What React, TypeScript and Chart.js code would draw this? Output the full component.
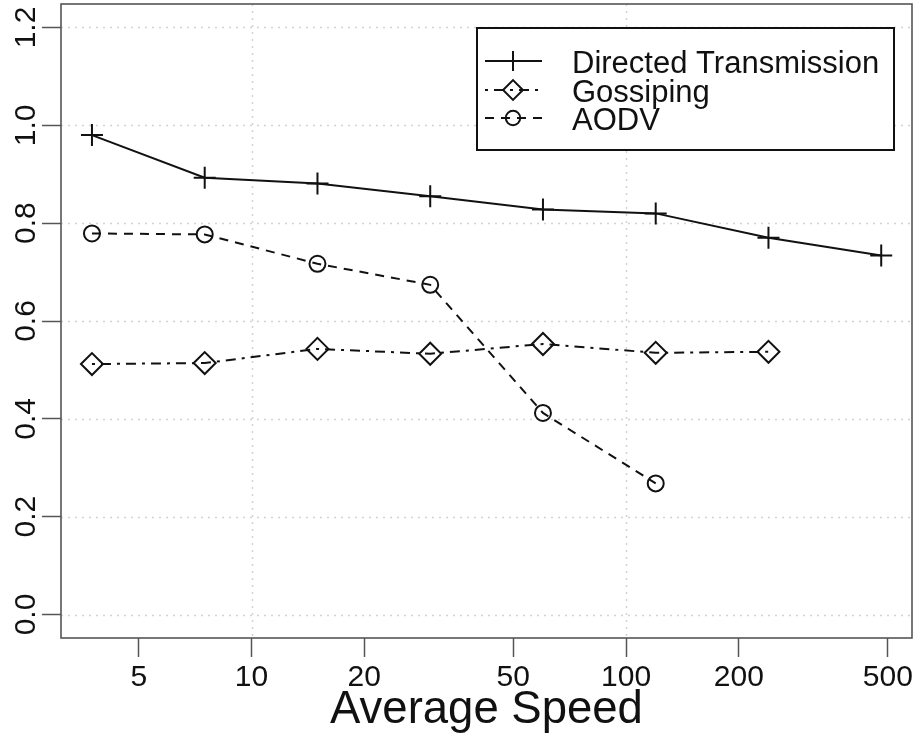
import React, { useEffect, useRef } from "react";
import { Chart, registerables } from "chart.js";
import { drawPoint } from "chart.js/helpers";

Chart.register(...registerables);

const speeds = [3.75, 7.5, 15, 30, 60, 120, 240, 480];
const directed = [0.98, 0.893, 0.881, 0.855, 0.828, 0.82, 0.77, 0.734];
const gossiping = [0.512, 0.514, 0.543, 0.533, 0.553, 0.535, 0.537];
const aodv = [0.779, 0.777, 0.717, 0.674, 0.412, 0.268];

const xTicks = [5, 10, 20, 50, 100, 200, 500];
const xGrid = [10, 100];
const yTicks = [0, 0.2, 0.4, 0.6, 0.8, 1.0, 1.2];
const yTickLabels = ["0.0", "0.2", "0.4", "0.6", "0.8", "1.0", "1.2"];
const seriesNames = ["Directed Transmission", "Gossiping", "AODV"];
const xTitle = "Average Speed";

const FONT = "'Liberation Sans', Arial, Helvetica, sans-serif";
const INK = "#111111";

const toPoints = (vals: number[]) => vals.map((v, i) => ({ x: speeds[i], y: v }));

const customPlugin = {
  id: "customDecor",
  beforeDatasetsDraw(chart: any) {
    const { ctx, chartArea, scales } = chart;
    const { left, right, top, bottom } = chartArea;
    ctx.save();
    ctx.strokeStyle = "#d2d2d2";
    ctx.lineWidth = 1.5;
    ctx.setLineDash([2, 5]);
    yTicks.forEach((v) => {
      const py = Math.round(scales.y.getPixelForValue(v)) + 0.5;
      ctx.beginPath();
      ctx.moveTo(left, py);
      ctx.lineTo(right, py);
      ctx.stroke();
    });
    xGrid.forEach((v) => {
      const px = Math.round(scales.x.getPixelForValue(v)) + 0.5;
      ctx.beginPath();
      ctx.moveTo(px, top);
      ctx.lineTo(px, bottom);
      ctx.stroke();
    });
    ctx.restore();
  },
  afterDatasetsDraw(chart: any) {
    const { ctx, chartArea, scales } = chart;
    const { left, right, top, bottom } = chartArea;
    ctx.save();
    // plot box
    ctx.setLineDash([]);
    ctx.strokeStyle = "#555555";
    ctx.lineWidth = 1.6;
    ctx.strokeRect(left, top, right - left, bottom - top);

    // y tick labels (rotated)
    ctx.fillStyle = INK;
    ctx.font = `30px ${FONT}`;
    ctx.textAlign = "center";
    ctx.textBaseline = "alphabetic";
    yTicks.forEach((v, i) => {
      const py = scales.y.getPixelForValue(v);
      ctx.save();
      ctx.translate(35, py);
      ctx.rotate(-Math.PI / 2);
      ctx.fillText(yTickLabels[i], 0, 0);
      ctx.restore();
    });

    // x title
    ctx.font = `45.5px ${FONT}`;
    ctx.textAlign = "center";
    ctx.fillText(xTitle, (left + right) / 2, 723);

    // legend
    const bx = 477, by = 28, bw = 417, bh = 122;
    ctx.fillStyle = "#ffffff";
    ctx.fillRect(bx, by, bw, bh);
    ctx.strokeStyle = INK;
    ctx.lineWidth = 2;
    ctx.strokeRect(bx, by, bw, bh);
    const rowsY = [61, 90, 118];
    const baseY = [73, 102, 130];
    chart.data.datasets.forEach((ds: any, i: number) => {
      const ry = rowsY[i];
      ctx.save();
      ctx.strokeStyle = ds.borderColor;
      ctx.lineWidth = ds.borderWidth;
      ctx.setLineDash(ds.borderDash || []);
      ctx.beginPath();
      ctx.moveTo(485, ry);
      ctx.lineTo(542, ry);
      ctx.stroke();
      ctx.setLineDash([]);
      ctx.strokeStyle = ds.pointBorderColor;
      ctx.fillStyle = "rgba(0,0,0,0)";
      ctx.lineWidth = ds.pointBorderWidth;
      drawPoint(ctx, { pointStyle: ds.pointStyle, radius: ds.pointRadius * 0.9, borderWidth: ds.pointBorderWidth, rotation: 0 }, 513, ry);
      ctx.restore();
      ctx.fillStyle = INK;
      ctx.font = `31px ${FONT}`;
      ctx.textAlign = "left";
      ctx.textBaseline = "alphabetic";
      ctx.fillText(seriesNames[i], 572, baseY[i]);
    });
    ctx.restore();
  },
};

export default function App() {
  const ref = useRef<HTMLCanvasElement | null>(null);
  useEffect(() => {
    document.body.style.margin = "0";
    if (!ref.current) return;
    const chart = new Chart(ref.current, {
      type: "line",
      data: {
        datasets: [
          {
            label: seriesNames[0],
            data: toPoints(directed),
            borderColor: INK,
            borderWidth: 2,
            borderDash: [],
            pointStyle: "cross",
            pointRadius: 11,
            pointBorderWidth: 2,
            pointBorderColor: INK,
            pointBackgroundColor: "rgba(0,0,0,0)",
            tension: 0,
          },
          {
            label: seriesNames[1],
            data: toPoints(gossiping),
            borderColor: INK,
            borderWidth: 2,
            borderDash: [3, 6, 10, 6],
            pointStyle: "rectRot",
            pointRadius: 11,
            pointBorderWidth: 2,
            pointBorderColor: INK,
            pointBackgroundColor: "rgba(0,0,0,0)",
            tension: 0,
          },
          {
            label: seriesNames[2],
            data: toPoints(aodv),
            borderColor: INK,
            borderWidth: 2,
            borderDash: [9, 7],
            pointStyle: "circle",
            pointRadius: 8,
            pointBorderWidth: 2,
            pointBorderColor: INK,
            pointBackgroundColor: "rgba(0,0,0,0)",
            tension: 0,
          },
        ] as any,
      },
      options: {
        animation: false,
        responsive: false,
        maintainAspectRatio: false,
        events: [],
        layout: { autoPadding: false, padding: { top: 4, right: 8, left: 0, bottom: 0 } },
        plugins: { legend: { display: false }, tooltip: { enabled: false }, title: { display: false } },
        scales: {
          x: {
            type: "logarithmic",
            min: 3.1,
            max: 580,
            afterBuildTicks: (s: any) => {
              s.ticks = xTicks.map((v) => ({ value: v }));
            },
            afterFit: (s: any) => {
              s.height = 98;
              s.paddingLeft = 0;
              s.paddingRight = 0;
            },
            ticks: {
              autoSkip: false,
              maxRotation: 0,
              minRotation: 0,
              color: INK,
              font: { family: FONT, size: 30 },
              padding: 3,
              callback: (v: any) => String(v),
            },
            grid: {
              drawOnChartArea: false,
              drawTicks: true,
              tickLength: 19,
              tickColor: "#555555",
              tickWidth: 1.5,
            },
            border: { display: false },
          },
          y: {
            type: "linear",
            min: -0.048,
            max: 1.248,
            afterBuildTicks: (s: any) => {
              s.ticks = yTicks.map((v) => ({ value: v }));
            },
            afterFit: (s: any) => {
              s.width = 61;
              s.paddingTop = 0;
              s.paddingBottom = 0;
            },
            ticks: { display: false },
            grid: {
              drawOnChartArea: false,
              drawTicks: true,
              tickLength: 19,
              tickColor: "#555555",
              tickWidth: 1.5,
            },
            border: { display: false },
          },
        },
      },
      plugins: [customPlugin],
    });
    return () => chart.destroy();
  }, []);
  return (
    <div style={{ width: 920, height: 736, position: "relative", background: "#fff" }}>
      <canvas ref={ref} width={920} height={736} style={{ width: 920, height: 736, display: "block" }} />
    </div>
  );
}
